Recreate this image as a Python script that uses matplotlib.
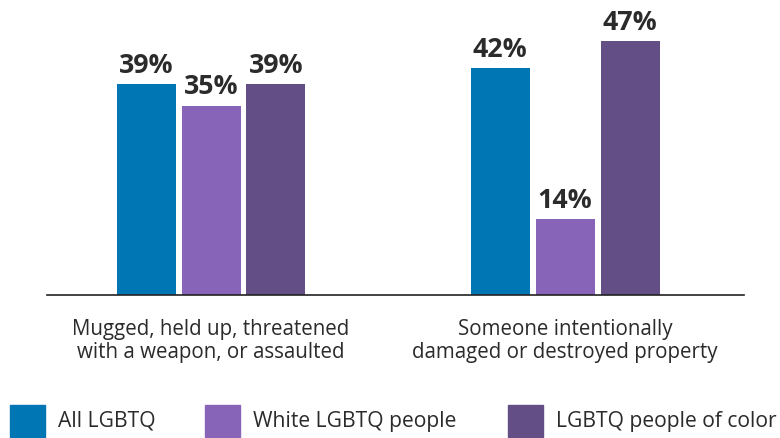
import matplotlib
matplotlib.use("Agg")
import matplotlib.pyplot as plt
from matplotlib.patches import Rectangle
import numpy as np

categories = ["Mugged, held up, threatened\nwith a weapon, or assaulted",
              "Someone intentionally\ndamaged or destroyed property"]
series_names = ["All LGBTQ", "White LGBTQ people", "LGBTQ people of color"]
all_lgbtq = [39, 42]
white_lgbtq = [35, 14]
poc_lgbtq = [39, 47]
colors = ["#0076B4", "#8764B8", "#634E86"]

plt.rcParams['font.family'] = ['Open Sans', 'DejaVu Sans']
W, H = 780, 438
fig = plt.figure(figsize=(W/100, H/100), dpi=100)
ax = fig.add_axes([47/W, 1-295/H, (744-47)/W, 270/H])

centers = np.array([0.0, 6.0])
bw = 1.0
step = 1.1
series = [all_lgbtq, white_lgbtq, poc_lgbtq]
for i, (vals, c) in enumerate(zip(series, colors)):
    xs = centers + (i-1)*step
    bars = ax.bar(xs, vals, width=bw, color=c)
    for x, v in zip(xs, vals):
        ax.annotate(f"{v}%", (x, v), xytext=(0, 4), textcoords="offset points",
                    ha="center", va="bottom", fontsize=19.3, fontweight="bold", color="#2b2b2b")

ax.set_xlim(-2.78, 9.03)
ax.set_ylim(0, 50)
for s in ["top", "right", "left"]:
    ax.spines[s].set_visible(False)
ax.spines["bottom"].set_color("#222222")
ax.spines["bottom"].set_linewidth(1.2)
ax.set_yticks([])
ax.set_xticks(centers)
ax.set_xticklabels(categories, fontsize=14.8, color="#2b2b2b", linespacing=1.12)
ax.tick_params(axis="x", length=0, pad=17)

# legend
leg_x = [10, 205, 508]
for x0, name, c in zip(leg_x, series_names, colors):
    fig.patches.append(Rectangle((x0/W, 1-437/H), 35/W, 32/H, transform=fig.transFigure,
                                 color=c))
    fig.text((x0+48)/W, 1-421/H, name, ha="left", va="center", fontsize=15.2, color="#2b2b2b")

fig.savefig("out.png", dpi=100)
